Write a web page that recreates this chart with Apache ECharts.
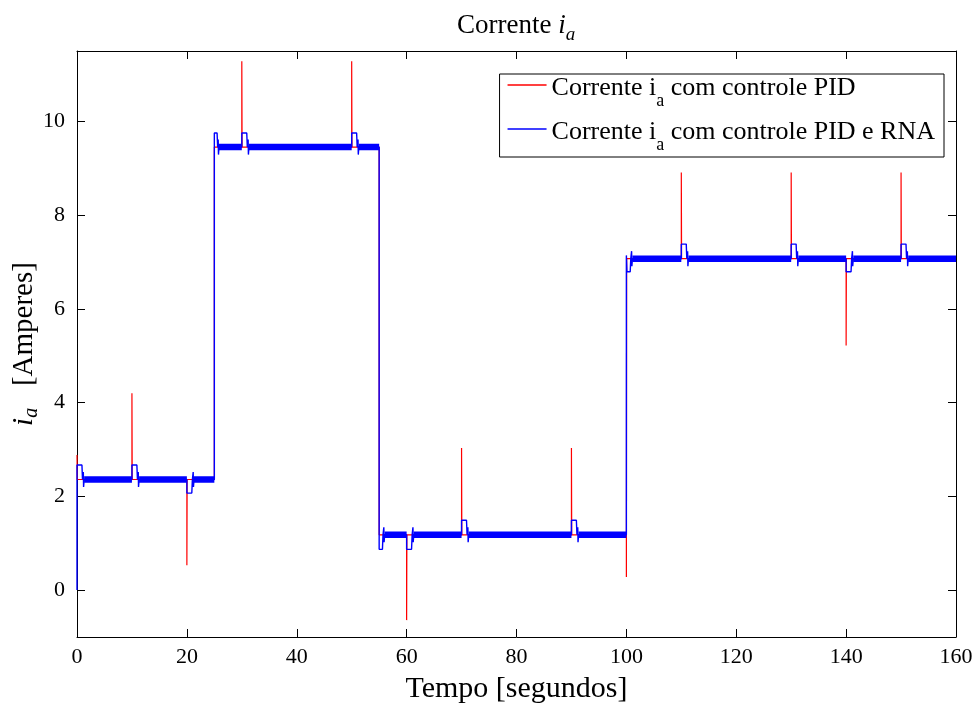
<!DOCTYPE html>
<html>
<head>
<meta charset="utf-8">
<title>Corrente ia</title>
<script src="https://cdn.jsdelivr.net/npm/echarts@6/dist/echarts.min.js"></script>
<style>
  html, body { margin: 0; padding: 0; background: #ffffff; }
  #chart { width: 979px; height: 704px; }
</style>
</head>
<body>
<div id="chart"></div>
<script>
// Axis ticks
const timeTicks = [0, 20, 40, 60, 80, 100, 120, 140, 160];
const currentTicks = [0, 2, 4, 6, 8, 10];

// Series names
const pidName = 'Corrente ia com controle PID';
const rnaName = 'Corrente ia com controle PID e RNA';

// Current with PID control: [time (s), current (A)]
const pidTrace = [
  [0, 2.88], [0.05, 2.36],
  [10, 2.36], [10, 4.2], [10.05, 2.36],
  [20, 2.36], [20, 0.53], [20.05, 2.36],
  [25, 2.36], [25, 9.45],
  [30, 9.45], [30, 11.28], [30.05, 9.45],
  [50, 9.45], [50, 11.28], [50.05, 9.45],
  [55, 9.45], [55, 1.18],
  [60, 1.18], [60, -0.64], [60.05, 1.18],
  [70, 1.18], [70, 3.03], [70.05, 1.18],
  [90, 1.18], [90, 3.03], [90.05, 1.18],
  [100, 1.18], [100, 0.28], [100.05, 7.07],
  [110, 7.07], [110, 8.91], [110.05, 7.07],
  [130, 7.07], [130, 8.91], [130.05, 7.07],
  [140, 7.07], [140, 5.22], [140.05, 7.07],
  [150, 7.07], [150, 8.91], [150.05, 7.07],
  [160, 7.07]
];

// Current with PID + neural network control: transients around each disturbance
const rnaTrace = [
  [0, 0], [0, 2.67], [0.9, 2.67], [1.0, 2.36], [1.15, 2.52], [1.2, 2.2], [1.3, 2.36],
  [10, 2.36], [10, 2.67], [10.9, 2.67], [11.0, 2.36], [11.15, 2.52], [11.2, 2.2], [11.3, 2.36],
  [20, 2.36], [20, 2.07], [20.9, 2.07], [21.0, 2.36], [21.15, 2.52], [21.2, 2.2], [21.3, 2.36],
  [25, 2.36], [25, 9.75], [25.5, 9.75], [25.6, 9.45], [25.7, 9.61], [25.75, 9.29], [25.85, 9.45],
  [30, 9.45], [30, 9.75], [30.9, 9.75], [31.0, 9.45], [31.15, 9.61], [31.2, 9.29], [31.3, 9.45],
  [50, 9.45], [50, 9.75], [50.9, 9.75], [51.0, 9.45], [51.15, 9.61], [51.2, 9.29], [51.3, 9.45],
  [55, 9.45], [55, 0.87], [55.6, 0.87], [55.7, 1.18], [55.85, 1.34], [55.9, 1.02], [56.0, 1.18],
  [60, 1.18], [60, 0.87], [60.9, 0.87], [61.0, 1.18], [61.15, 1.34], [61.2, 1.02], [61.3, 1.18],
  [70, 1.18], [70, 1.49], [70.9, 1.49], [71.0, 1.18], [71.15, 1.34], [71.2, 1.02], [71.3, 1.18],
  [90, 1.18], [90, 1.49], [90.9, 1.49], [91.0, 1.18], [91.15, 1.34], [91.2, 1.02], [91.3, 1.18],
  [100, 1.18], [100, 7.14], [100.1, 7.14], [100.1, 6.79], [100.7, 6.79], [100.8, 7.07], [100.95, 7.23], [101.0, 6.91], [101.1, 7.07],
  [110, 7.07], [110, 7.38], [110.9, 7.38], [111.0, 7.07], [111.15, 7.23], [111.2, 6.91], [111.3, 7.07],
  [130, 7.07], [130, 7.38], [130.9, 7.38], [131.0, 7.07], [131.15, 7.23], [131.2, 6.91], [131.3, 7.07],
  [140, 7.07], [140, 6.79], [140.9, 6.79], [141.0, 7.07], [141.15, 7.23], [141.2, 6.91], [141.3, 7.07],
  [150, 7.07], [150, 7.38], [150.9, 7.38], [151.0, 7.07], [151.15, 7.23], [151.2, 6.91], [151.3, 7.07],
  [160, 7.07]
];

// Steady-state ripple of the PID + RNA current: [start, end, level]
const rnaRipple = [
  [1.3, 10, 2.36], [11.3, 20, 2.36], [21.3, 25, 2.36],
  [25.85, 30, 9.45], [31.3, 50, 9.45], [51.3, 55, 9.45],
  [56.0, 60, 1.18], [61.3, 70, 1.18], [71.3, 90, 1.18], [91.3, 100, 1.18],
  [101.1, 110, 7.07], [111.3, 130, 7.07], [131.3, 140, 7.07], [141.3, 150, 7.07], [151.3, 160, 7.07]
];

const serif = '"Liberation Serif", "Times New Roman", Times, serif';

// Ripple segments joined into one line broken by empty points
const rippleData = [];
rnaRipple.forEach(function (seg) {
  rippleData.push([seg[0], seg[2]], [seg[1], seg[2]], [seg[1], null]);
});

const legendLabels = {};
legendLabels[pidName] = '{t|Corrente i}{s|a}{t| com controle PID}';
legendLabels[rnaName] = '{t|Corrente i}{s|a}{t| com controle PID e RNA}';

const chart = echarts.init(document.getElementById('chart'), null, { renderer: 'canvas' });

const frameAxis = {
  type: 'value',
  axisLine: { show: true, onZero: false, lineStyle: { color: '#000', width: 1 } },
  axisTick: { show: true, inside: true, length: 8, lineStyle: { color: '#000', width: 1 } },
  splitLine: { show: false }
};

chart.setOption({
  animation: false,
  backgroundColor: '#ffffff',
  textStyle: { fontFamily: serif },
  title: {
    text: '{n|Corrente }{i|i}{s|a}',
    left: 452,
    top: 7,
    textStyle: {
      fontWeight: 'normal',
      rich: {
        n: { fontFamily: serif, fontSize: 27, fontWeight: 'normal', color: '#000', lineHeight: 27, verticalAlign: 'top' },
        i: { fontFamily: serif, fontSize: 27, fontWeight: 'normal', fontStyle: 'italic', color: '#000', lineHeight: 27, verticalAlign: 'top' },
        s: { fontFamily: serif, fontSize: 19, fontWeight: 'normal', fontStyle: 'italic', color: '#000', lineHeight: 19, padding: [13, 0, 0, 0], verticalAlign: 'top' }
      }
    }
  },
  grid: { left: 77, right: 23, top: 51, bottom: 67, containLabel: false, outerBoundsMode: 'none' },
  legend: {
    show: true,
    data: [pidName, rnaName],
    right: 35,
    top: 74,
    orient: 'vertical',
    icon: 'rect',
    itemWidth: 39,
    itemHeight: 1.5,
    itemGap: 9,
    itemTextGap: 3,
    padding: [1, 9, 3, 8],
    borderColor: '#000',
    borderWidth: 1,
    backgroundColor: '#fff',
    formatter: function (name) { return legendLabels[name]; },
    textStyle: {
      rich: {
        t: { fontFamily: serif, fontSize: 26, color: '#000', lineHeight: 20, verticalAlign: 'top' },
        s: { fontFamily: serif, fontSize: 18, color: '#000', lineHeight: 14, padding: [17, 0, 0, 0], verticalAlign: 'top' }
      }
    }
  },
  xAxis: [
    Object.assign({}, frameAxis, {
      min: 0, max: 160, position: 'bottom',
      name: 'Tempo [segundos]',
      nameLocation: 'middle',
      nameGap: 37,
      nameMoveOverlap: false,
      nameTextStyle: { fontFamily: serif, fontSize: 30, color: '#000' },
      axisTick: Object.assign({}, frameAxis.axisTick, { customValues: timeTicks }),
      axisLabel: { customValues: timeTicks, fontFamily: serif, fontSize: 22, color: '#000', margin: 9 }
    }),
    Object.assign({}, frameAxis, {
      min: 0, max: 160, position: 'top',
      axisTick: Object.assign({}, frameAxis.axisTick, { customValues: timeTicks }),
      axisLabel: { show: false }
    })
  ],
  yAxis: [
    Object.assign({}, frameAxis, {
      min: -1, max: 11.5, position: 'left',
      name: '{i|i}{s|a}{n|   [Amperes]}',
      nameLocation: 'middle',
      nameRotate: 90,
      nameGap: 38,
      nameMoveOverlap: false,
      nameTextStyle: {
        rich: {
          i: { fontFamily: serif, fontSize: 29, fontStyle: 'italic', color: '#000', lineHeight: 29, verticalAlign: 'top' },
          s: { fontFamily: serif, fontSize: 20, fontStyle: 'italic', color: '#000', lineHeight: 20, padding: [12, 0, 0, 0], verticalAlign: 'top' },
          n: { fontFamily: serif, fontSize: 29, color: '#000', lineHeight: 29, verticalAlign: 'top' }
        }
      },
      axisTick: Object.assign({}, frameAxis.axisTick, { customValues: currentTicks }),
      axisLabel: { customValues: currentTicks, fontFamily: serif, fontSize: 22, color: '#000', margin: 12 }
    }),
    Object.assign({}, frameAxis, {
      min: -1, max: 11.5, position: 'right',
      axisTick: Object.assign({}, frameAxis.axisTick, { customValues: currentTicks }),
      axisLabel: { show: false }
    })
  ],
  series: [
    {
      name: pidName,
      type: 'line',
      data: pidTrace,
      showSymbol: false,
      symbol: 'none',
      lineStyle: { color: '#ff0000', width: 1.2 },
      itemStyle: { color: '#ff0000' },
      z: 2
    },
    {
      name: rnaName,
      type: 'line',
      data: rnaTrace,
      showSymbol: false,
      symbol: 'none',
      lineStyle: { color: '#0000ff', width: 1.4 },
      itemStyle: { color: '#0000ff' },
      z: 3
    },
    {
      name: 'ripple',
      type: 'line',
      data: rippleData,
      showSymbol: false,
      symbol: 'none',
      connectNulls: false,
      lineStyle: { color: '#0000ff', width: 6.5, cap: 'butt' },
      itemStyle: { color: '#0000ff' },
      z: 4
    }
  ]
});
</script>
</body>
</html>
